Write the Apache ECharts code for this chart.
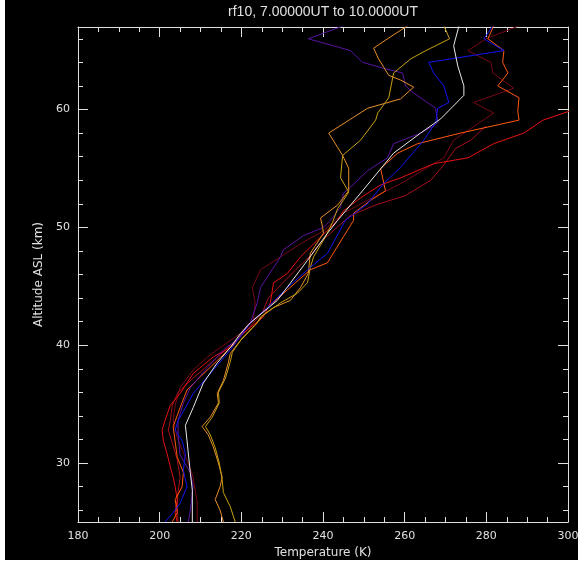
<!DOCTYPE html>
<html>
<head>
<meta charset="utf-8">
<script src="https://cdn.jsdelivr.net/npm/echarts@6/dist/echarts.min.js"></script>
<style>
  html, body { margin: 0; padding: 0; background: #ffffff; }
  #chart { position: absolute; left: 5px; top: 0; width: 573px; height: 560px; }
</style>
</head>
<body>
<div id="chart"></div>
<script>
// Temperature profiles, rf10 7-10 UT: [temperature K, altitude km]
const titleText = 'rf10, 7.00000UT to 10.0000UT';
const xTicks = [180, 200, 220, 240, 260, 280, 300];
const yTicks = [30, 40, 50, 60];

const maroonProfile = [
  [209.2,25.0],[209.2,26.6],[208.2,28.8],[207.0,30.0],[205.5,31.1],[204.3,32.2],[203.3,33.6],
  [203.8,34.9],[205.0,36.4],[208.2,37.9],[211.7,39.0],[214.8,39.8],[219.8,41.0],[222.9,42.1],
  [223.4,43.6],[222.7,44.9],[224.7,46.4],[229.6,47.5],[234.5,48.6],[240.1,49.7],[245.0,51.2],
  [250.9,52.3],[259.0,53.7],[267.1,55.4],[269.6,55.9],[272.0,57.4],[273.7,57.8],[281.8,59.7],
  [276.9,60.6],[286.7,61.8],[281.6,63.1],[281.1,64.0],[275.5,65.0],[279.9,66.0],[288.0,67.1]
];
const darkRedProfile = [
  [204.5,25.0],[204.3,26.3],[204.5,27.5],[205.0,28.8],[204.3,30.3],[203.1,31.7],[202.1,32.8],
  [202.6,33.6],[203.1,34.9],[204.5,36.0],[207.5,37.0],[211.2,38.1],[214.8,39.2],[218.5,40.3],
  [221.7,41.4],[225.2,42.8],[226.6,44.0],[229.6,45.1],[233.3,46.4],[236.9,47.6],[239.9,48.9],
  [243.1,49.9],[246.7,51.0],[252.9,51.9],[260.2,52.7],[266.4,54.0],[269.6,55.3],[272.5,56.7],
  [276.2,57.4],[279.9,58.6]
];
const redProfile = [
  [204.3,25.0],[203.8,25.8],[204.3,26.9],[203.8,28.0],[203.3,28.8],[202.6,29.7],[201.8,30.8],
  [200.9,31.9],[200.6,32.8],[201.3,33.6],[202.6,34.9],[205.0,35.9],[208.2,37.6],[213.1,39.0],
  [217.3,39.8],[220.5,41.0],[222.2,41.5],[225.4,42.4],[227.1,43.6],[227.9,45.3],[231.3,46.1],
  [234.5,47.5],[237.7,48.6],[243.6,50.6],[245.0,51.4],[249.2,52.5],[254.1,53.6],[259.0,54.2],
  [267.1,55.4],[275.5,55.9],[281.8,57.1],[289.2,58.0],[293.9,59.1],[300.7,59.9],[308.0,60.8]
];
const orangeRedProfile = [
  [203.1,25.0],[204.3,25.8],[203.8,26.9],[205.5,28.0],[205.8,29.2],[204.3,30.5],[203.3,33.1],
  [205.0,34.7],[206.7,36.2],[209.9,37.3],[214.1,38.7],[218.5,40.2],[221.5,41.7],[226.4,43.2],
  [231.3,44.7],[236.9,46.4],[241.1,47.0],[245.0,49.2],[247.5,50.6],[247.5,51.2],[251.7,52.3],
  [255.3,53.1],[254.1,55.0],[258.3,56.3],[263.2,57.1],[273.7,58.0],[288.0,59.1],[287.7,59.9],
  [288.0,61.0],[282.8,62.0],[285.3,63.1],[284.0,64.0],[284.3,65.0],[280.4,66.0],[281.8,67.1]
];
const purpleProfile = [
  [207.0,25.0],[207.5,26.0],[208.2,28.0],[207.5,29.2],[205.0,30.7],[204.5,32.4],[204.5,33.6],
  [205.8,35.1],[207.5,36.4],[211.7,38.1],[215.6,39.6],[219.8,40.7],[222.2,41.9],[222.7,42.4],
  [223.9,43.6],[224.7,44.9],[229.6,47.5],[230.3,48.1],[235.2,49.3],[240.1,50.0],[241.8,50.6],
  [244.3,51.7],[245.0,52.9],[246.7,53.4],[250.9,54.8],[255.8,55.9],[257.3,57.1],[263.2,57.9],
  [267.1,58.6],[268.1,58.9],[267.6,60.1],[262.2,61.4],[260.2,62.0],[259.5,63.1],[254.8,63.5],
  [249.7,64.0],[246.7,65.0],[236.4,66.0],[245.0,67.1]
];
const orangeProfile = [
  [215.6,25.0],[214.8,26.0],[213.6,26.9],[214.8,28.0],[215.3,28.8],[214.4,30.0],[213.1,31.4],
  [211.9,32.4],[210.4,33.1],[212.4,33.9],[214.4,35.1],[214.1,35.9],[215.6,37.0],[216.8,38.5],
  [217.3,39.3],[219.8,40.4],[223.9,41.9],[224.7,42.4],[227.9,43.2],[232.0,43.8],[234.5,44.9],
  [236.4,46.1],[236.9,47.8],[240.1,49.5],[239.9,50.0],[239.4,50.8],[243.6,51.9],[246.3,53.1],
  [246.3,55.0],[244.8,56.1],[241.4,58.0],[250.9,60.1],[259.0,60.9],[262.2,61.9],[259.0,62.5],
  [256.1,62.9],[253.6,64.3],[252.4,65.2],[255.8,66.0],[260.7,67.1]
];
const goldProfile = [
  [218.5,25.0],[217.3,26.3],[215.6,27.5],[215.3,28.6],[214.6,30.0],[213.6,31.3],[212.4,32.4],
  [211.2,33.1],[212.9,33.9],[214.6,35.1],[214.4,36.0],[216.1,37.2],[217.3,38.6],[217.8,39.4],
  [220.2,40.6],[223.9,41.9],[225.2,42.5],[229.6,43.6],[233.7,44.4],[236.2,45.3],[236.9,46.6],
  [237.7,47.5],[240.6,49.2],[242.3,50.4],[243.6,51.6],[245.0,52.3],[246.3,53.0],[244.3,54.2],
  [244.8,56.1],[249.2,57.4],[252.9,59.1],[253.4,59.7],[256.1,61.0],[257.3,63.1],[261.5,64.3],
  [265.2,65.0],[271.0,66.0],[269.6,67.1]
];
const blueProfile = [
  [201.3,25.0],[203.3,25.8],[205.0,26.6],[206.7,28.0],[205.8,29.4],[206.3,30.8],[205.5,31.9],
  [203.8,32.8],[204.5,33.6],[205.5,34.2],[208.2,35.9],[212.4,37.6],[217.3,39.6],[222.2,41.9],
  [226.4,43.2],[231.3,44.9],[236.9,46.6],[241.1,47.8],[245.5,50.6],[250.9,52.0],[254.8,53.7],
  [259.0,55.1],[264.7,57.4],[267.6,58.9],[268.1,60.1],[270.8,60.6],[269.6,62.0],[267.1,63.1],
  [265.9,64.0],[284.3,65.0],[279.4,66.0],[281.6,67.1]
];
const meanProfile = [
  [208.0,25.0],[208.0,27.7],[207.5,29.2],[206.7,31.9],[206.3,33.2],[208.2,34.7],[210.7,36.8],
  [214.1,38.5],[217.3,39.8],[219.8,41.0],[222.2,41.9],[228.8,43.8],[236.2,47.2],[241.1,49.5],
  [243.6,50.6],[249.2,52.9],[257.3,56.3],[263.9,58.0],[268.8,59.2],[274.5,61.2],[274.5,62.0],
  [273.0,63.7],[272.0,65.4],[273.3,67.1]
];

const profiles = [
  { name: 'maroon', data: maroonProfile, color: '#780818' },
  { name: 'darkred', data: darkRedProfile, color: '#a8101c' },
  { name: 'red', data: redProfile, color: '#e81010' },
  { name: 'orangered', data: orangeRedProfile, color: '#ff5a10' },
  { name: 'purple', data: purpleProfile, color: '#5a14a0' },
  { name: 'orange', data: orangeProfile, color: '#e8902c' },
  { name: 'gold', data: goldProfile, color: '#c8a010' },
  { name: 'blue', data: blueProfile, color: '#1414f0' },
  { name: 'mean', data: meanProfile, color: '#e8e8e8' }
];

const fg = '#e0e0e0';
const font = 'DejaVu Sans';

function frameAxis(extra) {
  return Object.assign({
    type: 'value',
    axisLine: { show: true, lineStyle: { color: fg, width: 1 } },
    axisTick: { show: true, inside: true, length: 10, lineStyle: { color: fg } },
    minorTick: { show: true, length: 5, lineStyle: { color: fg } },
    splitLine: { show: false },
    axisLabel: { show: false }
  }, extra);
}

// Altitude axis: 25..67 km, major ticks every 10 km at round values, minor every 2 km
function altitudeAxis(extra) {
  return frameAxis(Object.assign({
    min: 25, max: 67, splitNumber: 4, minInterval: 10, maxInterval: 10,
    minorTick: { show: true, splitNumber: 5, length: 5, lineStyle: { color: fg } }
  }, extra));
}

const chart = echarts.init(document.getElementById('chart'), null, { renderer: 'canvas' });
chart.setOption({
  backgroundColor: '#000000',
  animation: false,
  textStyle: { fontFamily: font },
  graphic: [{
    type: 'text', x: 318, y: 12,
    style: { text: titleText, fill: fg, font: '14px "Liberation Sans"', textAlign: 'center', textVerticalAlign: 'middle' }
  }],
  grid: { left: 73, right: 10, top: 27, bottom: 38, containLabel: false, outerBoundsMode: 'none' },
  xAxis: [
    frameAxis({
      position: 'bottom', min: 180, max: 300, interval: 20,
      minorTick: { show: true, splitNumber: 4, length: 5, lineStyle: { color: fg } },
      name: 'Temperature (K)', nameLocation: 'middle', nameGap: 24,
      nameTextStyle: { color: fg, fontSize: 12, fontFamily: font },
      axisLabel: {
        show: true, color: fg, fontSize: 11, fontFamily: font, margin: 9,
        formatter: v => (xTicks.includes(v) ? String(v) : '')
      }
    }),
    frameAxis({
      position: 'top', min: 180, max: 300, interval: 20,
      minorTick: { show: true, splitNumber: 4, length: 5, lineStyle: { color: fg } }
    })
  ],
  yAxis: [
    altitudeAxis({
      position: 'left',
      name: 'Altitude ASL (km)', nameLocation: 'middle', nameGap: 28, nameRotate: 90,
      nameTextStyle: { color: fg, fontSize: 12, fontFamily: font },
      axisLabel: {
        show: true, color: fg, fontSize: 11, fontFamily: font, margin: 8,
        showMinLabel: false, showMaxLabel: false,
        formatter: v => (yTicks.includes(v) ? String(v) : '')
      }
    }),
    altitudeAxis({ position: 'right' })
  ],
  series: profiles.map(p => ({
    name: p.name,
    type: 'line',
    xAxisIndex: 0,
    yAxisIndex: 0,
    data: p.data,
    symbol: 'none',
    clip: true,
    lineStyle: { color: p.color, width: 1 },
    emphasis: { disabled: true }
  }))
});
</script>
</body>
</html>
